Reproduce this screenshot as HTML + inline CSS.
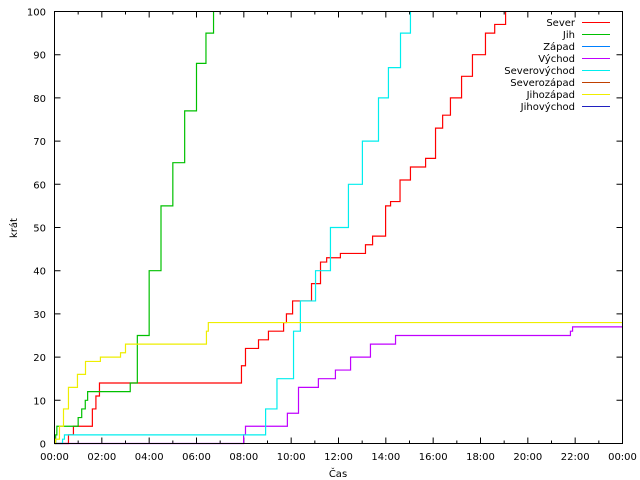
<!DOCTYPE html>
<html><head><meta charset="utf-8"><style>
body{margin:0;background:#fff}
svg{display:block;font-family:"DejaVu Sans","Liberation Sans",sans-serif;font-size:10px}
</style></head><body>
<svg id="chart" width="640" height="480" xmlns="http://www.w3.org/2000/svg">
<rect width="640" height="480" fill="#fff"/>
<g id="ticks"></g>
<g id="series"></g>
<rect x="54.5" y="11.5" width="568" height="432" fill="none" stroke="#000"/>
<text transform="translate(17,228) rotate(-90)" text-anchor="middle">krát</text>
<text x="338" y="477" text-anchor="middle">Čas</text>
<g id="legend"></g>
</svg>
<script>
const xTickLabels=["00:00","02:00","04:00","06:00","08:00","10:00","12:00","14:00","16:00","18:00","20:00","22:00","00:00"];
const yTickLabels=[0,10,20,30,40,50,60,70,80,90,100];
const seriesNames=["Sever","Jih","Západ","Východ","Severovýchod","Severozápad","Jihozápad","Jihovýchod"];
const seriesColors=["#ff0000","#00c000","#0080ff","#c000ff","#00eeee","#c04000","#eeee00","#2020c0"];
// step data: times (hours) and values
const severT=[0,0.59,0.8,1.44,1.6,1.75,1.9,7.82,7.9,8.07,8.62,9.04,9.68,9.8,10.06,10.86,11.24,11.5,12.08,13.14,13.44,13.99,14.2,14.6,15.04,15.68,16.1,16.4,16.73,17.2,17.66,18.21,18.6,19.06];
const severV=[0,2,4,4,8,11,14,14,18,22,24,26,28,30,33,37,42,43,44,46,48,55,56,61,64,66,73,76,80,85,90,95,97,100];
const jihT=[0,0.05,0.1,0.93,1.0,1.15,1.3,1.4,3.08,3.2,3.5,4.0,4.5,5.0,5.5,6.0,6.4,6.72];
const jihV=[0,2,4,4,6,8,10,12,12,14,25,40,55,65,77,88,95,100];
const zapadT=[];
const zapadV=[];
const vychodT=[0,7.99,8.07,8.92,9.84,10.31,11.15,11.87,12.51,13.35,14.41,21.8,21.89];
const vychodV=[0,2,4,4,7,13,15,17,20,23,25,26,27];
const severovychodT=[0,0.34,0.42,8.41,8.92,9.4,10.1,10.39,11.03,11.66,12.42,13.01,13.69,14.11,14.62,15.04];
const severovychodV=[0,1,2,2,8,15,26,33,40,50,60,70,80,87,95,100];
const severozapadT=[];
const severozapadV=[];
const jihozapadT=[0,0.04,0.21,0.38,0.59,0.97,1.31,1.94,2.79,3.0,6.25,6.42,6.5];
const jihozapadV=[0,1,4,8,13,16,19,20,21,23,23,26,28];
const jihovychodT=[];
const jihovychodV=[];
const allT=[severT,jihT,zapadT,vychodT,severovychodT,severozapadT,jihozapadT,jihovychodT];
const allV=[severV,jihV,zapadV,vychodV,severovychodV,severozapadV,jihozapadV,jihovychodV];

const X0=54.5,X1=622.5,Y0=443.5,Y1=11.5;
const xs=h=>X0+(X1-X0)*h/24;
const ys=v=>Y0-(Y0-Y1)*v/100;
const NS="http://www.w3.org/2000/svg";
function mk(tag,attrs,parent){const e=document.createElementNS(NS,tag);for(const k in attrs)e.setAttribute(k,attrs[k]);parent.appendChild(e);return e;}
const tg=document.getElementById('ticks');
for(let i=0;i<=24;i++){
  const x=xs(i),len=(i%2===0)?6:3;
  const t=mk('path',{d:`M${x},${Y0}v${-len}M${x},${Y1}v${len}`,stroke:'#000'},tg);
  
  
}
xTickLabels.forEach((l,i)=>{
  const t=mk('text',{x:xs(i*2),y:460,'text-anchor':'middle'},tg);t.textContent=l;
  
  
});
yTickLabels.forEach(v=>{
  const y=ys(v);
  const p=mk('path',{d:`M${X0},${y}h6M${X1},${y}h-6`,stroke:'#000'},tg);
  
  
  const t=mk('text',{x:46,y:y+4,'text-anchor':'end'},tg);t.textContent=v;
  
  
});
const sg=document.getElementById('series');
allT.forEach((T,s)=>{
  const V=allV[s];if(!T.length)return;
  let d=`M${xs(T[0])},${ys(V[0])}`;
  for(let i=1;i<T.length;i++){d+=`H${xs(T[i])}V${ys(V[i])}`;}
  const last=V[V.length-1];
  if(last<100)d+=`H${X1}`;
  const p=mk('path',{d:d,fill:'none',stroke:seriesColors[s],'stroke-width':1.2},sg);
  
  
});
const lg=document.getElementById('legend');
seriesNames.forEach((n,i)=>{
  const y=22+i*12;
  const t=mk('text',{x:575,y:y+4,'text-anchor':'end'},lg);t.textContent=n;
  
  
  const l=mk('line',{x1:582,x2:610,y1:y+0.5,y2:y+0.5,stroke:seriesColors[i]},lg);
  
  
});
</script>
</body></html>
